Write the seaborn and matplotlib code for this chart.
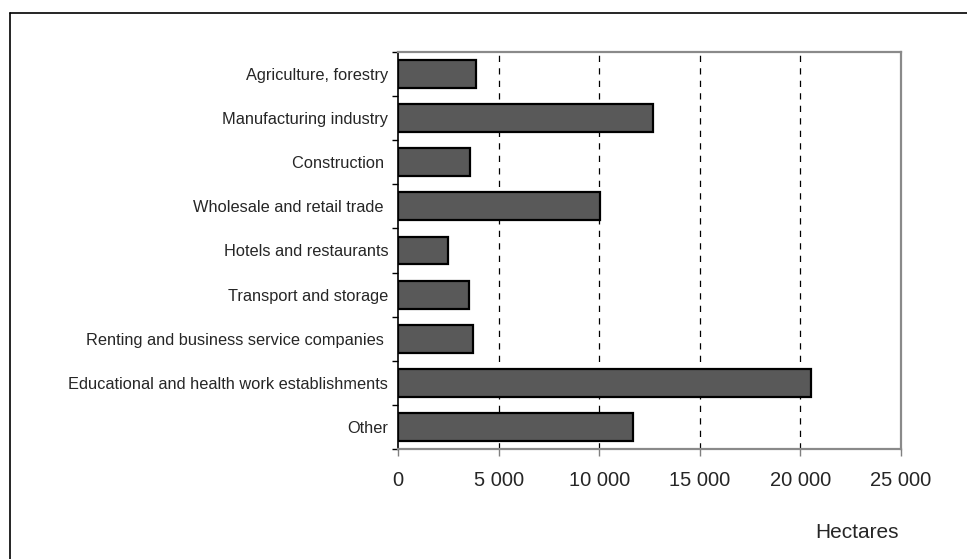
import matplotlib
matplotlib.use("Agg")
import matplotlib.pyplot as plt
from matplotlib.lines import Line2D
from matplotlib.ticker import FixedLocator, FuncFormatter
import seaborn as sns
import pandas as pd

categories = [
    "Agriculture, forestry",
    "Manufacturing industry",
    "Construction ",
    "Wholesale and retail trade ",
    "Hotels and restaurants",
    "Transport and storage",
    "Renting and business service companies ",
    "Educational and health work establishments",
    "Other",
]
hectares = [3900, 12650, 3600, 10050, 2500, 3550, 3750, 20550, 11700]
x_ticks = [0, 5000, 10000, 15000, 20000, 25000]
x_label = "Hectares"

sns.set_theme(style="white")
plt.rcParams["font.family"] = ["Liberation Sans", "DejaVu Sans"]

df = pd.DataFrame({"category": categories, "value": hectares})

fig = plt.figure(figsize=(9.67, 5.59), dpi=100)
ax = fig.add_axes([398 / 967, 1 - 449 / 559, (901 - 398) / 967, (449 - 52) / 559])

sns.barplot(data=df, x="value", y="category", orient="h", color="#595959",
            saturation=1, edgecolor="black", linewidth=1.6, width=0.63, ax=ax)

ax.set_xlim(0, 25000)
ax.set_ylim(len(categories) - 0.5, -0.5)
ax.set_xticks(x_ticks)
ax.xaxis.set_major_formatter(FuncFormatter(lambda v, p: f"{int(v):,}".replace(",", " ")))
for v in x_ticks[1:-1]:
    ax.axvline(v, color="black", lw=0.9, ls=(0, (5, 5)), zorder=0.5)

ax.set_xlabel("")
ax.set_ylabel("")
ax.tick_params(axis="x", which="major", direction="out", length=5, width=1,
               color="#808080", pad=11, labelsize=14.5, bottom=True)
ax.tick_params(axis="y", which="major", length=0, pad=7, labelsize=11.8)
ax.yaxis.set_minor_locator(FixedLocator([i - 0.5 for i in range(len(categories) + 1)]))
ax.tick_params(axis="y", which="minor", direction="out", length=4, width=1,
               color="black", left=True)

for side in ["top", "right", "bottom"]:
    ax.spines[side].set_color("#8a8a8a")
    ax.spines[side].set_linewidth(1.6)
ax.spines["left"].set_color("black")
ax.spines["left"].set_linewidth(1.2)
for s in ax.spines.values():
    s.set_visible(True)

fig.text(857 / 967, 1 - 532 / 559, x_label, ha="center", va="center", fontsize=15)

# outer frame (top and left edges visible)
fig.add_artist(Line2D([10 / 967, 1.0], [1 - 13 / 559, 1 - 13 / 559],
                      transform=fig.transFigure, color="black", lw=1.2))
fig.add_artist(Line2D([10 / 967, 10 / 967], [1 - 13 / 559, 0.0],
                      transform=fig.transFigure, color="black", lw=1.2))

fig.savefig("out.png", dpi=100)
